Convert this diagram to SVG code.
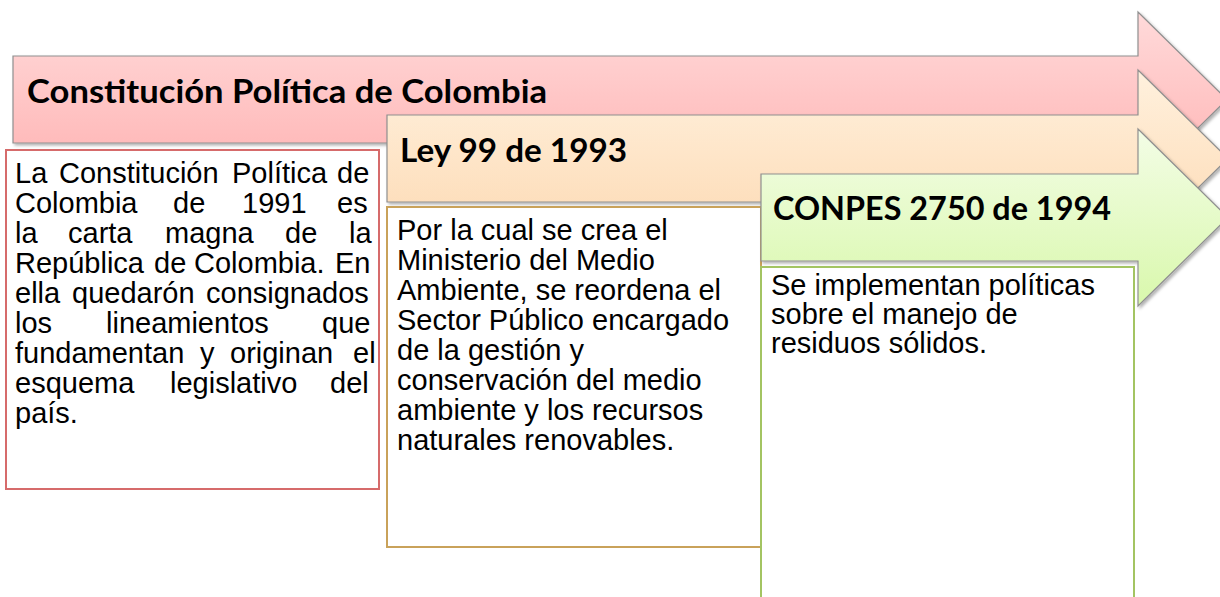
<svg xmlns="http://www.w3.org/2000/svg" width="1220" height="597" viewBox="0 0 1220 597">
<defs>
<linearGradient id="gPink" x1="0" y1="0" x2="0" y2="1"><stop offset="0" stop-color="#ffdada"/><stop offset="1" stop-color="#ffb1b1"/></linearGradient>
<linearGradient id="gOrange" x1="0" y1="0" x2="0" y2="1"><stop offset="0" stop-color="#fff1de"/><stop offset="1" stop-color="#fdd9b2"/></linearGradient>
<linearGradient id="gGreen" x1="0" y1="0" x2="0" y2="1"><stop offset="0" stop-color="#f3fde6"/><stop offset="1" stop-color="#d9f8ac"/></linearGradient>
<filter id="sh" x="-5%" y="-10%" width="115%" height="130%"><feDropShadow dx="2" dy="2" stdDeviation="1.5" flood-color="#000" flood-opacity="0.3"/></filter>
<style>
.arrow{stroke:#8f8f8f;stroke-width:1.2;filter:url(#sh)}
.box{fill:#fff;stroke-width:2}
.body{font-family:"Liberation Sans",Arial,sans-serif;font-size:29px;fill:#000}
.head{font-family:Lato,"Open Sans","Liberation Sans",sans-serif;font-weight:700;font-size:32px;fill:#000}
</style>
</defs>
<g id="connectors"></g>
<g id="node-constitucion">
<path class="arrow" fill="url(#gPink)" d="M13,56 H1138 V12 L1227,99.5 L1138,187 V143 H13 Z"/>
<text class="head" x="27" y="103" textLength="520" lengthAdjust="spacingAndGlyphs">Constitución Política de Colombia</text>
</g>
<g id="node-constitucion-text">
<rect class="box" x="6" y="150" width="373" height="339" stroke="#d66b6b"/>
<text class="body">
<tspan x="15" y="183">La</tspan><tspan x="59" y="183">Constitución</tspan><tspan x="232" y="183">Política</tspan><tspan x="337" y="183">de</tspan>
<tspan x="15" y="213">Colombia</tspan><tspan x="173" y="213">de</tspan><tspan x="242" y="213">1991</tspan><tspan x="337" y="213">es</tspan>
<tspan x="15" y="243">la</tspan><tspan x="68" y="243">carta</tspan><tspan x="165" y="243">magna</tspan><tspan x="285" y="243">de</tspan><tspan x="349" y="243">la</tspan>
<tspan x="15" y="273">República</tspan><tspan x="154" y="273">de</tspan><tspan x="194" y="273">Colombia.</tspan><tspan x="335" y="273">En</tspan>
<tspan x="15" y="303">ella</tspan><tspan x="72" y="303">quedarón</tspan><tspan x="206" y="303">consignados</tspan>
<tspan x="15" y="333">los</tspan><tspan x="106" y="333">lineamientos</tspan><tspan x="322" y="333">que</tspan>
<tspan x="15" y="363">fundamentan</tspan><tspan x="200" y="363">y</tspan><tspan x="230" y="363">originan</tspan><tspan x="353" y="363">el</tspan>
<tspan x="15" y="393">esquema</tspan><tspan x="170" y="393">legislativo</tspan><tspan x="330" y="393">del</tspan>
<tspan x="15" y="423">país.</tspan>
</text>
</g>
<g id="node-ley99">
<path class="arrow" fill="url(#gOrange)" d="M387,115 H1138 V70 L1228,158.5 L1138,247 V202 H387 Z"/>
<text class="head" x="400" y="162" textLength="227" lengthAdjust="spacingAndGlyphs">Ley 99 de 1993</text>
</g>
<g id="node-ley99-text">
<rect class="box" x="387" y="207" width="374" height="340" stroke="#c9a25a"/>
<text class="body">
<tspan x="397" y="240">Por la cual se crea el</tspan>
<tspan x="397" y="270">Ministerio del Medio</tspan>
<tspan x="397" y="300">Ambiente, se reordena el</tspan>
<tspan x="397" y="330">Sector Público encargado</tspan>
<tspan x="397" y="360">de la gestión y</tspan>
<tspan x="397" y="390">conservación del medio</tspan>
<tspan x="397" y="420">ambiente y los recursos</tspan>
<tspan x="397" y="450">naturales renovables.</tspan>
</text>
</g>
<g id="node-conpes">
<path class="arrow" fill="url(#gGreen)" d="M761,174 H1138 V129 L1228,217.5 L1138,306 V261 H761 Z"/>
<text class="head" x="773" y="220" textLength="338" lengthAdjust="spacingAndGlyphs">CONPES 2750 de 1994</text>
</g>
<g id="node-conpes-text">
<rect class="box" x="761" y="267" width="373" height="345" stroke="#a3c462"/>
<text class="body">
<tspan x="771" y="295">Se implementan políticas</tspan>
<tspan x="771" y="324">sobre el manejo de</tspan>
<tspan x="771" y="353">residuos sólidos.</tspan>
</text>
</g>
</svg>
